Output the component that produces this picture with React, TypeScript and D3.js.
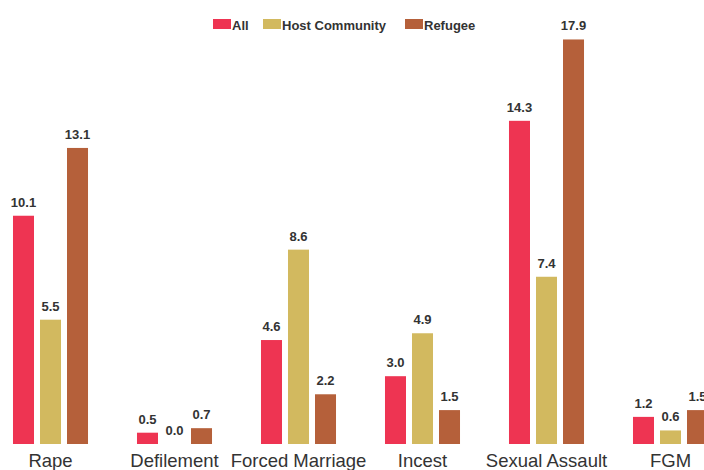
import React from "react";
import * as d3 from "d3";

const categories = ["Rape", "Defilement", "Forced Marriage", "Incest", "Sexual Assault", "FGM"];
const seriesNames = ["All", "Host Community", "Refugee"];
const allValues = [10.1, 0.5, 4.6, 3.0, 14.3, 1.2];
const hostValues = [5.5, 0.0, 8.6, 4.9, 7.4, 0.6];
const refugeeValues = [13.1, 0.7, 2.2, 1.5, 17.9, 1.5];
const colors = ["#EE3452", "#D2B95F", "#B5603A"];

const W = 704;
const H = 470;

export default function App() {
  const series = [allValues, hostValues, refugeeValues];
  const x0 = d3
    .scaleBand<string>()
    .domain(categories)
    .range([-11.5, 732.5])
    .paddingInner(0.395)
    .paddingOuter(0.1975);
  const x1 = d3
    .scaleBand<string>()
    .domain(seriesNames)
    .range([0, x0.bandwidth()])
    .paddingInner(0.222)
    .paddingOuter(0);
  const y = d3.scaleLinear().domain([0, 18]).range([444, 37.2]);

  const legendX = [213, 263, 405];

  return (
    <svg
      width={W}
      height={H}
      style={{ position: "absolute", left: 0, top: 0, display: "block" }}
      fontFamily="'Liberation Sans', Arial, sans-serif"
    >
      <rect x={0} y={0} width={W} height={H} fill="#fff" />
      {seriesNames.map((s, i) => (
        <g key={s}>
          <rect x={legendX[i]} y={19} width={18} height={10} fill={colors[i]} />
          <text x={legendX[i] + 19} y={30} fontSize={13} fontWeight="bold" fill="#333">
            {s}
          </text>
        </g>
      ))}
      {categories.map((c, ci) => (
        <g key={c} transform={`translate(${x0(c)},0)`}>
          {seriesNames.map((s, si) => {
            const v = series[si][ci];
            const bx = x1(s)!;
            return (
              <g key={s}>
                <rect
                  x={bx}
                  y={y(v)}
                  width={x1.bandwidth()}
                  height={y(0) - y(v)}
                  fill={colors[si]}
                />
                <text
                  x={bx + x1.bandwidth() / 2}
                  y={y(v) - 9}
                  textAnchor="middle"
                  fontSize={13}
                  fontWeight="bold"
                  fill="#333"
                >
                  {v.toFixed(1)}
                </text>
              </g>
            );
          })}
          <text
            x={x0.bandwidth() / 2}
            y={467}
            textAnchor="middle"
            fontSize={18.5}
            fill="#333"
          >
            {c}
          </text>
        </g>
      ))}
    </svg>
  );
}
